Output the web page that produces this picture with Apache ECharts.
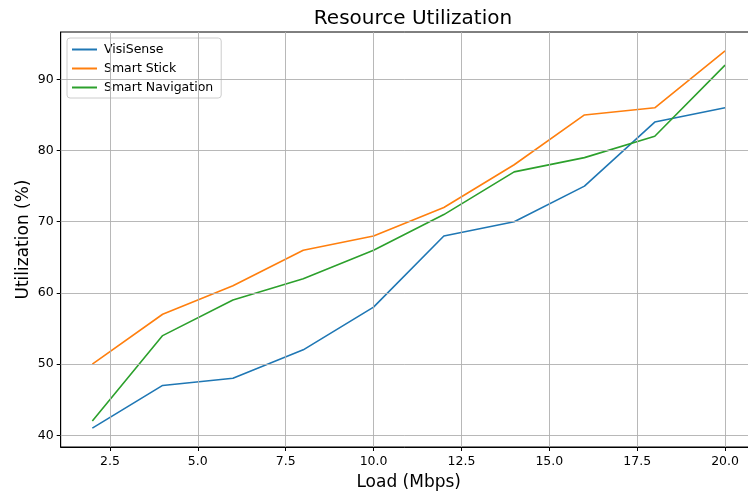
<!DOCTYPE html>
<html><head><meta charset="utf-8">
<script src="https://cdn.jsdelivr.net/npm/echarts@6/dist/echarts.min.js"></script>
<style>html,body{margin:0;padding:0;background:#fff}#c{width:748px;height:493px}</style>
</head><body><div id="c"></div>
<script>
const loads = [2, 4, 6, 8, 10, 12, 14, 16, 18, 20];
const visiSense = [41, 47, 48, 52, 58, 68, 70, 75, 84, 86];
const smartStick = [50, 57, 61, 66, 68, 72, 78, 85, 86, 94];
const smartNavigation = [42, 54, 59, 62, 66, 71, 77, 79, 82, 92];
const xTicks = [2.5, 5.0, 7.5, 10.0, 12.5, 15.0, 17.5, 20.0];
const yTicks = [40, 50, 60, 70, 80, 90];

const font = 'DejaVu Sans';
const chart = echarts.init(document.getElementById('c'), null, {renderer: 'canvas'});
const mk = (name, vals, color) => ({
  name, type: 'line', data: loads.map((x, i) => [x, vals[i]]),
  showSymbol: false, symbol: 'none', lineStyle: {color, width: 1.6}, itemStyle: {color},
  animation: false, z: 3
});
chart.setOption({
  animation: false,
  title: {text: 'Resource Utilization', left: 408, top: 4, textAlign: 'center',
    textStyle: {fontFamily: font, fontSize: 20, fontWeight: 'normal', color: '#000'}},
  legend: {left: 67, top: 38, orient: 'vertical', itemWidth: 25, itemHeight: 2, itemGap: 6,
    icon: 'rect', borderColor: '#cccccc', borderWidth: 1, borderRadius: 3, padding: [5, 8, 4, 5],
    backgroundColor: 'rgba(255,255,255,0.8)',
    textStyle: {fontFamily: font, fontSize: 12.5, color: '#000', padding: [0, 0, 0, 2]},
    data: ['VisiSense', 'Smart Stick', 'Smart Navigation']},
  grid: {left: 60.7, top: 32, width: 696, height: 415, show: true, borderColor: '#000', borderWidth: 1,
    backgroundColor: 'transparent', containLabel: false, outerBoundsMode: 'none'},
  xAxis: {type: 'value', min: 1.1, max: 20.9, name: 'Load (Mbps)', nameLocation: 'middle', nameGap: 27,
    nameMoveOverlap: false,
    nameTextStyle: {fontFamily: font, fontSize: 17, color: '#000'},
    axisLine: {show: true, lineStyle: {color: '#000'}},
    axisTick: {show: true, customValues: xTicks, length: 4, lineStyle: {color: '#000'}},
    axisLabel: {customValues: xTicks, formatter: v => v.toFixed(1), fontFamily: font, fontSize: 12.5, color: '#000', margin: 8},
    splitLine: {show: false}},
  yAxis: {type: 'value', min: 38.35, max: 96.65, name: 'Utilization (%)', nameLocation: 'middle', nameGap: 29,
    nameMoveOverlap: false,
    nameTextStyle: {fontFamily: font, fontSize: 17, color: '#000'},
    axisLine: {show: true, lineStyle: {color: '#000'}},
    axisTick: {show: true, customValues: yTicks, length: 4, lineStyle: {color: '#000'}},
    axisLabel: {customValues: yTicks, fontFamily: font, fontSize: 12.5, color: '#000', margin: 7},
    splitLine: {show: false}},
  series: [
    {type: 'line', data: [], silent: true, z: 1,
      markLine: {silent: true, symbol: 'none', label: {show: false}, animation: false,
        lineStyle: {color: '#b0b0b0', width: 0.9, type: 'solid'},
        emphasis: {disabled: true},
        data: xTicks.map(v => ({xAxis: v})).concat(yTicks.map(v => ({yAxis: v})))}},
    mk('VisiSense', visiSense, '#1f77b4'),
    mk('Smart Stick', smartStick, '#ff7f0e'),
    mk('Smart Navigation', smartNavigation, '#2ca02c')
  ]
});
</script></body></html>
